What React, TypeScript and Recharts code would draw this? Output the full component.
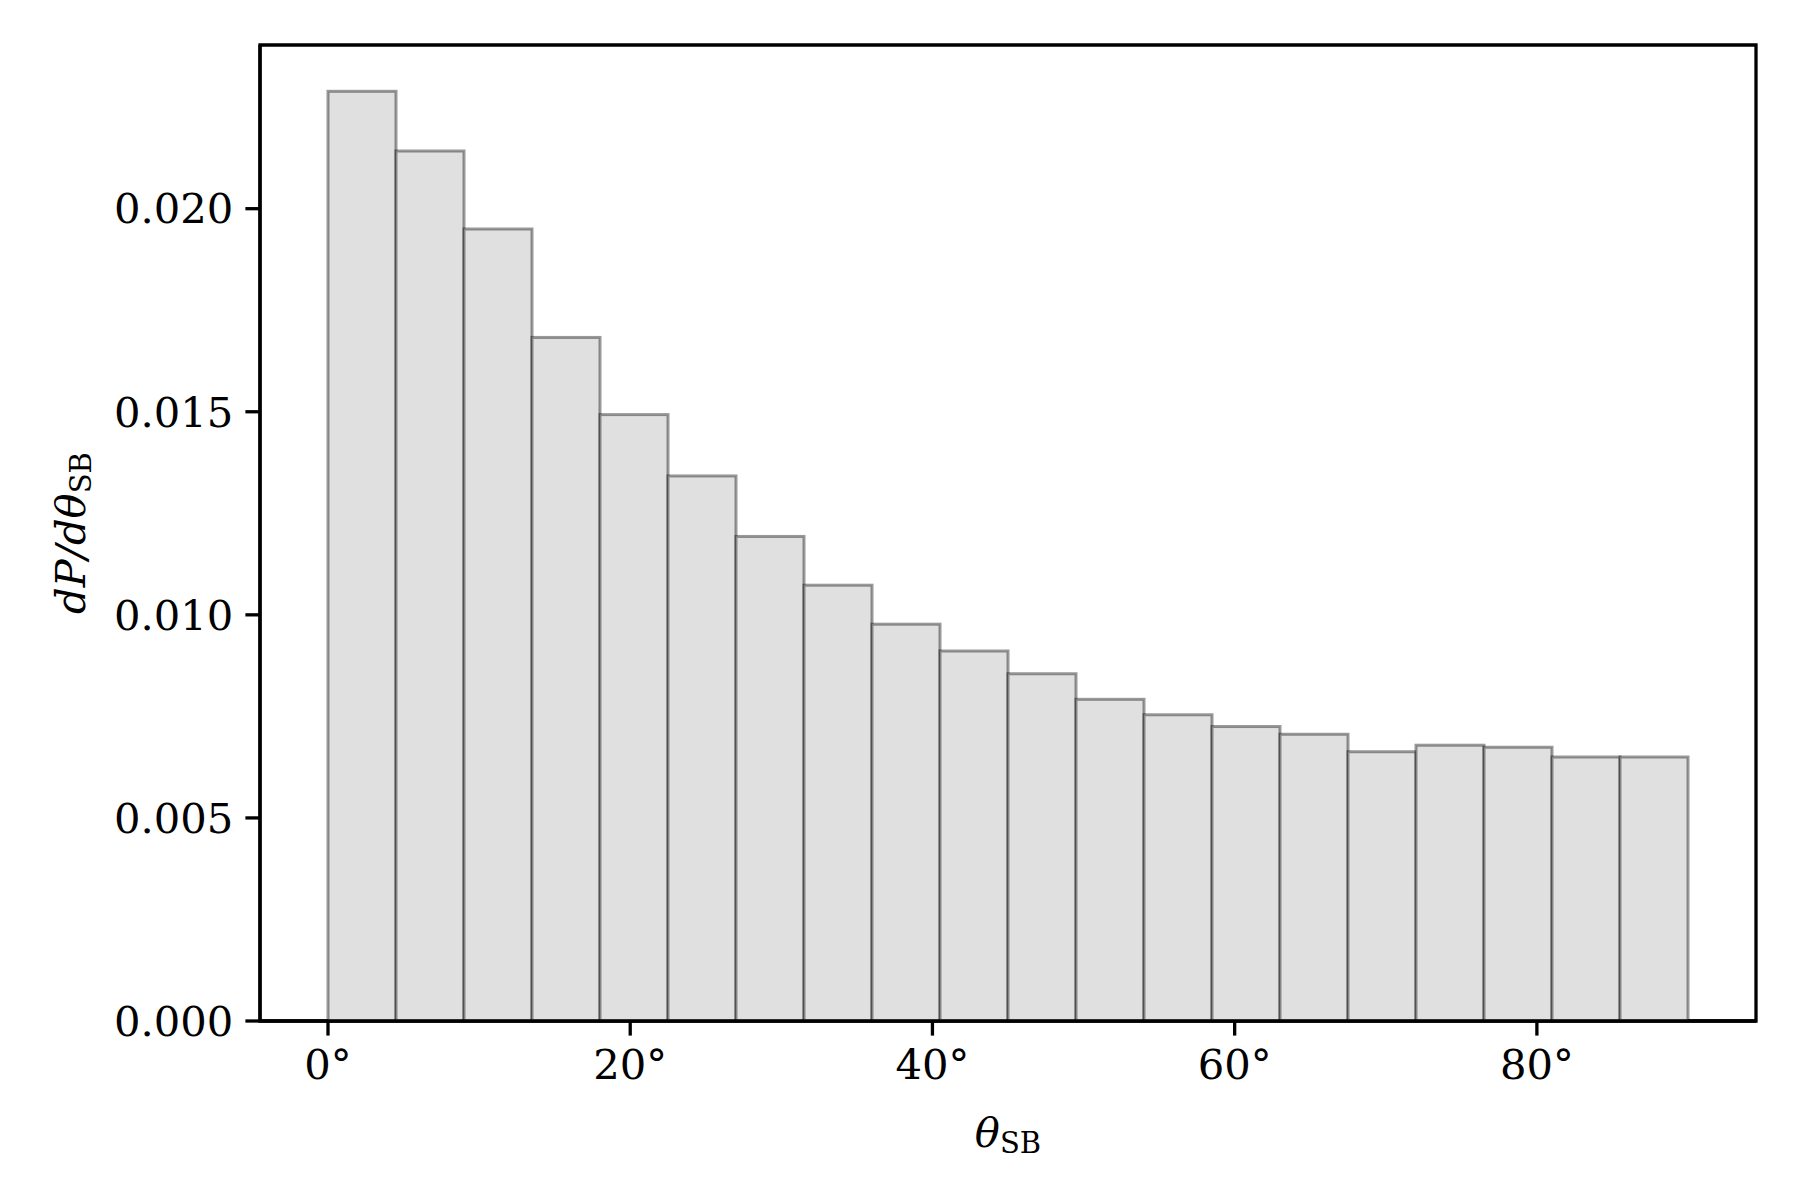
import {
  BarChart,
  Bar,
  XAxis,
  YAxis,
  ReferenceArea,
  Label,
} from "recharts";

// histogram: 20 bins of 4.5 degrees, from 0 to 90
const binCenters = [
  2.25, 6.75, 11.25, 15.75, 20.25, 24.75, 29.25, 33.75, 38.25, 42.75,
  47.25, 51.75, 56.25, 60.75, 65.25, 69.75, 74.25, 78.75, 83.25, 87.75,
];
const density = [
  0.02289, 0.02142, 0.0195, 0.01683, 0.01493, 0.01342, 0.01193, 0.01073,
  0.00977, 0.00911, 0.00855, 0.00792, 0.00754, 0.00725, 0.00706, 0.00663,
  0.00679, 0.00674, 0.0065, 0.0065,
];
const xTicks = [0, 20, 40, 60, 80];
const yTicks = [0, 0.005, 0.01, 0.015, 0.02];

const data = binCenters.map((c, i) => ({ center: c, density: density[i] }));

const FONT = "'DejaVu Serif', serif";
const FS = 41.7;
const X_DOMAIN: [number, number] = [-4.5, 94.5];
const Y_DOMAIN: [number, number] = [0, 0.02403];
const PLOT_W = 1496;
const BIN_PX = (4.5 / (X_DOMAIN[1] - X_DOMAIN[0])) * PLOT_W;

// full-width histogram bar, centred on the x the library gives
const HistBar = (props: any) => {
  const { x, y, width, height } = props;
  const cx = x + width / 2;
  return (
    <rect
      x={cx - BIN_PX / 2}
      y={y}
      width={BIN_PX}
      height={height}
      fill="#e0e0e0"
      stroke="rgba(0,0,0,0.4)"
      strokeWidth={3}
    />
  );
};

const XTitle = () => (
  <text
    x={1008}
    y={1147}
    textAnchor="middle"
    fontFamily={FONT}
    fontSize={FS}
    fill="#000"
  >
    <tspan fontStyle="italic">θ</tspan>
    <tspan fontSize={29} dy={6}>
      SB
    </tspan>
  </text>
);

const YTitle = () => (
  <text
    x={85}
    y={533}
    transform="rotate(-90, 85, 533)"
    textAnchor="middle"
    fontFamily={FONT}
    fontSize={FS}
    fill="#000"
  >
    <tspan fontStyle="italic">dP/dθ</tspan>
    <tspan fontSize={29} dy={6}>
      SB
    </tspan>
  </text>
);

export default function App() {
  return (
    <div style={{ position: "absolute", left: 0, top: 0, background: "#fff" }}>
      <BarChart
        width={1800}
        height={1200}
        data={data}
        margin={{ top: 45, right: 44, left: 0, bottom: 0 }}
        barCategoryGap={0}
        barGap={0}
      >
        <XAxis
          type="number"
          dataKey="center"
          domain={X_DOMAIN}
          allowDataOverflow
          ticks={xTicks}
          tickFormatter={(v) => `${v}°`}
          height={179}
          tickSize={14.6}
          tickMargin={14}
          axisLine={{ stroke: "#000", strokeWidth: 3.3 }}
          tickLine={{ stroke: "#000", strokeWidth: 3.3 }}
          tick={{ fill: "#000", fontFamily: FONT, fontSize: FS }}
        >
          <Label content={XTitle} />
        </XAxis>
        <YAxis
          type="number"
          domain={Y_DOMAIN}
          allowDataOverflow
          ticks={yTicks}
          tickFormatter={(v) => Number(v).toFixed(3)}
          width={260}
          tickSize={14.6}
          tickMargin={12}
          axisLine={{ stroke: "#000", strokeWidth: 3.3 }}
          tickLine={{ stroke: "#000", strokeWidth: 3.3 }}
          tick={{ fill: "#000", fontFamily: FONT, fontSize: FS }}
        >
          <Label content={YTitle} />
        </YAxis>
        <Bar
          dataKey="density"
          barSize={60}
          shape={HistBar}
          isAnimationActive={false}
        />
        <ReferenceArea
          x1={X_DOMAIN[0]}
          x2={X_DOMAIN[1]}
          y1={Y_DOMAIN[0]}
          y2={Y_DOMAIN[1]}
          fill="none"
          fillOpacity={0}
          stroke="#000"
          strokeWidth={3.3}
        />
      </BarChart>
    </div>
  );
}
